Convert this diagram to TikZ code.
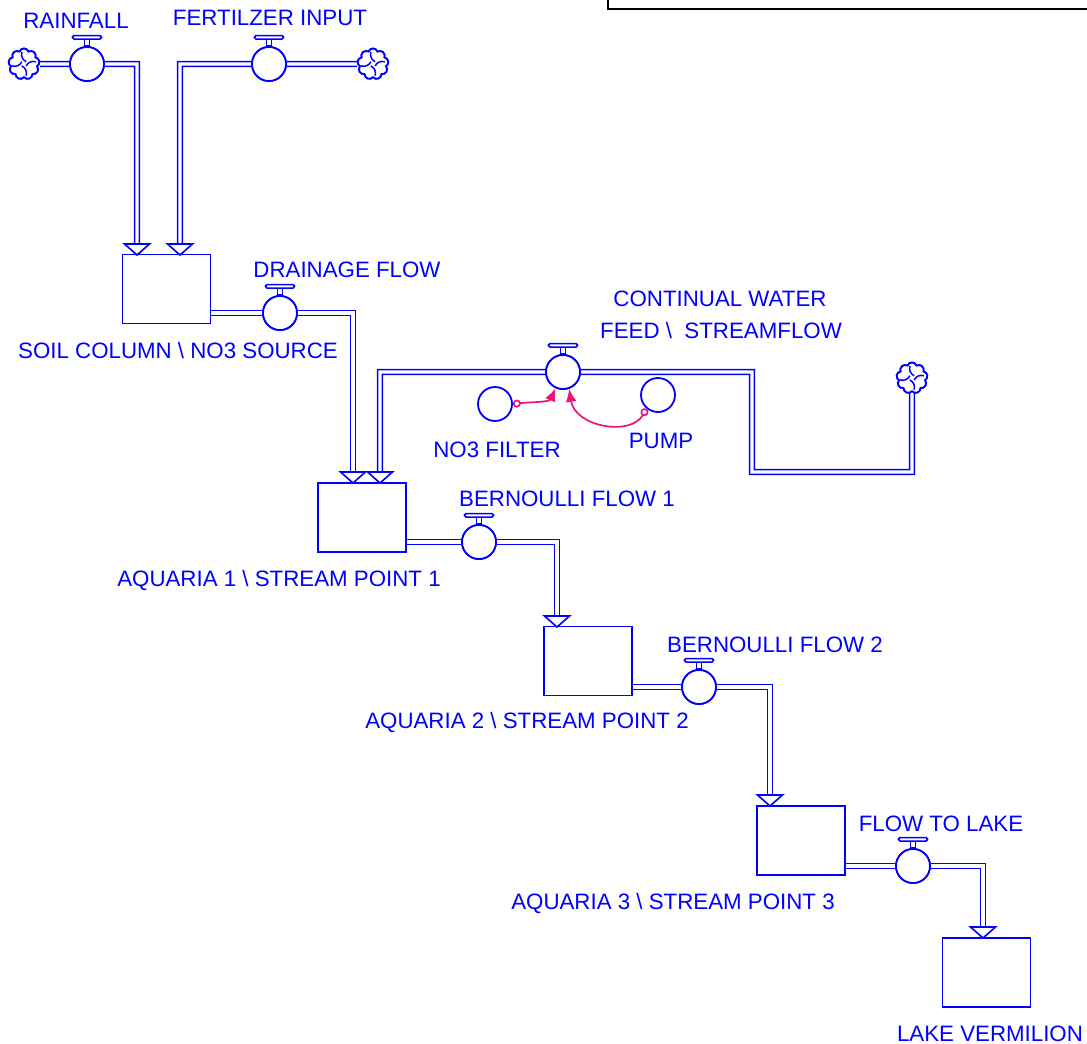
\documentclass[tikz,border=0pt]{standalone}
\usepackage{fontspec}
\setmainfont{Liberation Sans}
\usetikzlibrary{positioning, shapes.symbols, arrows.meta}
\definecolor{vblue}{RGB}{0,0,255}
\definecolor{vpink}{RGB}{235,20,120}
\tikzset{
  stock/.style={draw=vblue, line width=1.8pt, minimum width=88pt, minimum height=69pt, inner sep=0pt},
  valve/.style={circle, draw=vblue, line width=1.8pt, fill=white, minimum size=34pt, inner sep=0pt},
  aux/.style={circle, draw=vblue, line width=1.8pt, minimum size=34pt, inner sep=0pt},
  handle/.style={draw=vblue, line width=1.6pt, fill=white},
  cloudy/.style={cloud, cloud puffs=9, cloud puff arc=140, aspect=1, draw=vblue, line width=1.8pt, fill=white,
    minimum size=31pt, inner sep=0pt,
    path picture={\foreach \a in {45,135,225,315}
      \draw[vblue, line width=1.5pt] ([shift={(\a:3pt)}]path picture bounding box.center)
        to[bend left=40] ([shift={(\a+55:12pt)}]path picture bounding box.center);}},
  pipe/.style={draw=vblue, double=white, double distance=3.2pt, line width=1.6pt},
  inhead/.style={draw=vblue, line width=1.6pt, fill=white, line join=miter},
  lbl/.style={text=vblue, font=\fontsize{22.3}{26}\selectfont, inner sep=0pt, anchor=base},
  info/.style={draw=vpink, line width=1.7pt, {Circle[open, length=8pt, width=8pt]}-{Latex[length=13pt, width=11pt]}}
}

\begin{document}
\begin{tikzpicture}[x=1pt, y=-1pt]
  \useasboundingbox (0,0) rectangle (1087,1044);
  \draw[line width=1.8pt] (608,-3) |- (1092,9);

  \node[stock] (soil)      at (166.5,289)   {};
  \node[stock] (aquaria 1) at (362,517.5)   {};
  \node[stock] (aquaria 2) at (588,661)     {};
  \node[stock] (aquaria 3) at (801,840.5)   {};
  \node[stock] (lake)      at (986.5,972.5) {};

  \coordinate (soil top a) at (137,255);
  \coordinate (soil top b) at (180,255);
  \coordinate (aq1 top a)  at (353,483);
  \coordinate (aq1 top b)  at (380,483);
  \coordinate (aq2 top)    at (557,627);
  \coordinate (aq3 top)    at (770,806);
  \coordinate (lake top)   at (983,938);
  \coordinate (feed bend)  at (752,472);

  \node[cloudy] (raincloud) at (24,64)  {};
  \node[cloudy] (fertcloud) at (373,64) {};
  \node[cloudy] (feedcloud) at (912,378) {};

  \node[valve] (rainfall)    at (87,64)   {};
  \node[valve] (fertilizer)  at (269,64)  {};
  \node[valve] (drainage)    at (280,313) {};
  \node[valve] (feed)        at (563,372) {};
  \node[valve] (bernoulli 1) at (479,542) {};
  \node[valve] (bernoulli 2) at (699,687) {};
  \node[valve] (to lake)     at (913,866) {};

  \node[aux] (filter) at (495,404) {};
  \node[aux] (pump)   at (658,395) {};

  \draw[pipe] (raincloud) -- (rainfall) -- (rainfall -| soil top a) -- (soil top a);
  \draw[pipe] (fertcloud) -- (fertilizer) -- (fertilizer -| soil top b) -- (soil top b);
  \draw[pipe] (soil.east |- drainage) -- (drainage) -- (drainage -| aq1 top a) -- (aq1 top a);
  \draw[pipe] (feedcloud) -- (feedcloud |- feed bend) -- (feed bend) -- (feed bend |- feed)
    -- (feed) -- (feed -| aq1 top b) -- (aq1 top b);
  \draw[pipe] (aquaria 1.east |- bernoulli 1) -- (bernoulli 1) -- (bernoulli 1 -| aq2 top) -- (aq2 top);
  \draw[pipe] (aquaria 2.east |- bernoulli 2) -- (bernoulli 2) -- (bernoulli 2 -| aq3 top) -- (aq3 top);
  \draw[pipe] (aquaria 3.east |- to lake) -- (to lake) -- (to lake -| lake top) -- (lake top);

  \foreach \p in {soil top a, soil top b, aq1 top a, aq1 top b, aq2 top, aq3 top, lake top}
    \draw[inhead] (\p) -- ++(-12.5,-11) -- ++(25,0) -- cycle;

  \foreach \v in {rainfall, fertilizer, drainage, feed, bernoulli 1, bernoulli 2, to lake} {
    \node[valve] at (\v) {};
    \draw[handle] (\v.north) ++(-2.5,0) rectangle ++(5,-7);
    \draw[handle, rounded corners=1.5pt] (\v.north) ++(-14.5,-7) rectangle ++(29,-3.5);
  }
  \foreach \c in {raincloud, fertcloud, feedcloud}
    \node[cloudy] at (\c) {};

  \draw[info] (filter.east) .. controls +(18,-2) and +(-6,14) .. (feed.245);
  \draw[info] (pump.230) .. controls +(-16,28) and +(6,38) .. (feed.290);

  \node[lbl] (rainfall label)   at (76,28)    {RAINFALL};
  \node[lbl] (fertilizer label) at (270,25)   {FERTILZER INPUT};
  \node[lbl] (drainage label)   at (347,277)  {DRAINAGE FLOW};
  \node[lbl] (soil label)       at (178,358)  {SOIL COLUMN \textbackslash\ NO3 SOURCE};
  \node[lbl] (feed label a)     at (720,306)  {CONTINUAL WATER};
  \node[lbl] (feed label b)     at (721,338)  {FEED \textbackslash\ \ STREAMFLOW};
  \node[lbl] (filter label)     at (497,457)  {NO3 FILTER};
  \node[lbl] (pump label)       at (661,448)  {PUMP};
  \node[lbl] (bernoulli label 1) at (567,506) {BERNOULLI FLOW 1};
  \node[lbl] (aquaria label 1)  at (279,586)  {AQUARIA 1 \textbackslash\ STREAM POINT 1};
  \node[lbl] (bernoulli label 2) at (775,652) {BERNOULLI FLOW 2};
  \node[lbl] (aquaria label 2)  at (527,728)  {AQUARIA 2 \textbackslash\ STREAM POINT 2};
  \node[lbl] (to lake label)    at (941,831)  {FLOW TO LAKE};
  \node[lbl] (aquaria label 3)  at (673,909)  {AQUARIA 3 \textbackslash\ STREAM POINT 3};
  \node[lbl] (lake label)       at (990,1041) {LAKE VERMILION};
\end{tikzpicture}
\end{document}
